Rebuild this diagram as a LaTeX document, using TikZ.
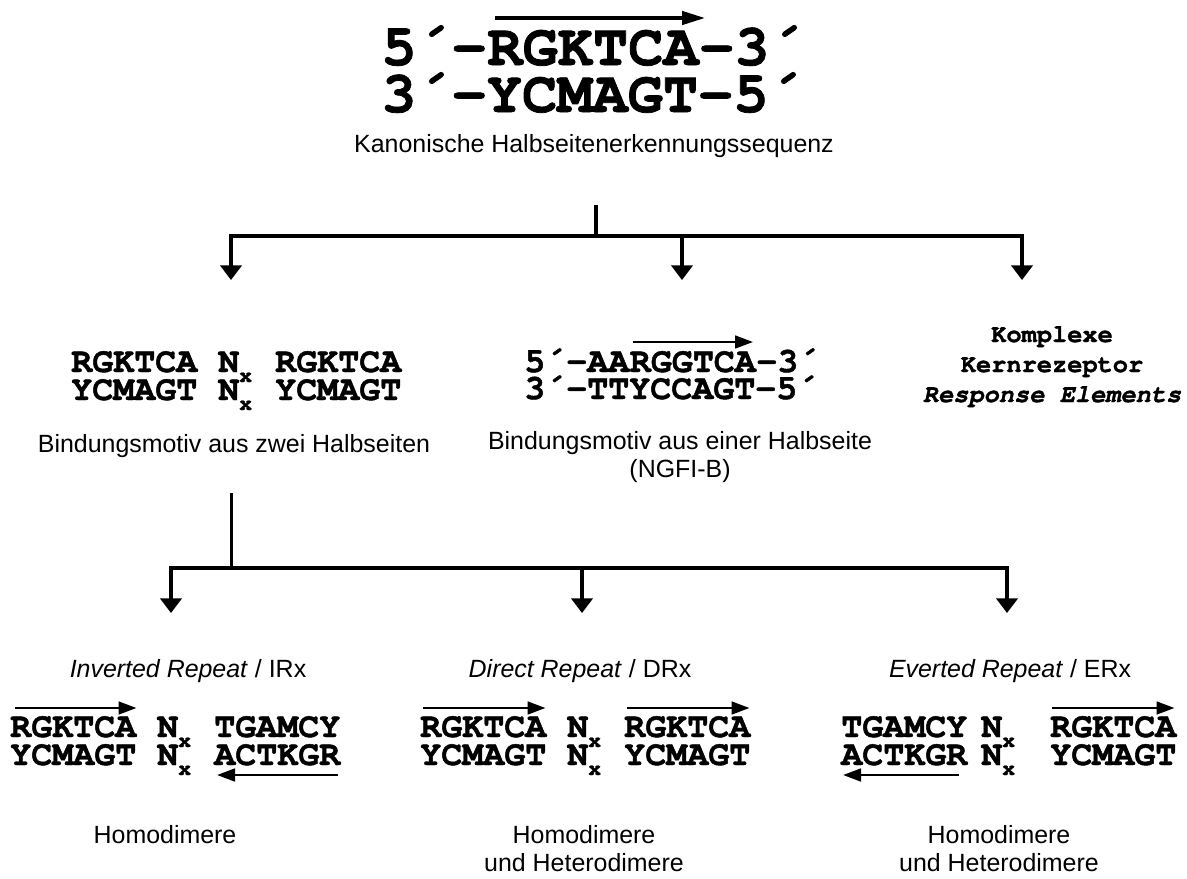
\documentclass[tikz,border=0pt]{standalone}
\usepackage{fontspec}
\setmainfont{Liberation Sans}
\newfontfamily\monofam{TeX Gyre Cursor}[BoldFeatures={FakeBold=1.3}, BoldItalicFeatures={FakeBold=1.3}]
\usetikzlibrary{arrows.meta, positioning}

\newcommand\seqbig{\fontsize{44}{35}\selectfont\monofam\bfseries}
\newcommand\seqmid{\fontsize{26.25}{21}\selectfont\monofam\bfseries}
\newcommand\seqsmall{\fontsize{19}{22.5}\selectfont\monofam\bfseries}
\newcommand\lblfont{\fontsize{18.7}{21}\selectfont}
\newcommand\Nx{N\raisebox{-7.5pt}{\fontsize{16}{16}\selectfont x}}

\tikzset{
  seqb/.style={font=\seqbig, inner sep=0pt, anchor=base west},
  seqm/.style={font=\seqmid, inner sep=0pt, anchor=base west},
  lbl/.style={font=\lblfont, inner sep=0pt, anchor=base, align=center},
  branch/.style={line width=2.4pt},
  drop/.style={branch, -{Triangle[length=11pt, width=16pt]}},
  fork/.style={branch, {Triangle[length=11pt, width=16pt]}-{Triangle[length=11pt, width=16pt]}},
  bigstrand/.style={line width=2.3pt, -{Triangle[length=17pt, width=10pt]}},
  strand/.style={line width=2pt, -{Triangle[length=13.5pt, width=9.5pt]}},
}

\begin{document}
\begin{tikzpicture}[x=0.75pt, y=-0.75pt]
        \useasboundingbox (0,0) rectangle (1187,878);

        % canonical half site
        \node[seqb] (t1a) at (381,65) {5´-};
        \node[seqb] (t1b) at (t1a.base east) {RGKTCA};
        \node[seqb] (t1c) at (t1b.base east) {-3´};
        \node[seqb] (t2) at (381,112) {3´-YCMAGT-5´};
        \draw[bigstrand] ([shift={(8,-47)}]t1b.base west) -- ([shift={(6,-47)}]t1b.base east);
        \node[lbl] (canon) at (594,152) {Kanonische Halbseitenerkennungssequenz};

        \coordinate (top) at (596,205);
        \coordinate (hub) at (596,236);
        \coordinate (toA) at (231,280);
        \coordinate (toB) at (682,280);
        \coordinate (toC) at (1022,280);
        \draw[branch] (top) -- (hub);
        \draw[fork] (toA) |- (hub) -| (toC);
        \draw[drop] (hub -| toB) -- (toB);

        % two half sites
        \node[seqm] (a1l) at (71,372) {RGKTCA};
        \node[seqm] (a1n) at (218,372) {\Nx};
        \node[seqm] (a1r) at (275,372) {RGKTCA};
        \node[seqm] (a2l) at (71,400) {YCMAGT};
        \node[seqm] (a2n) at (218,400) {\Nx};
        \node[seqm] (a2r) at (275,400) {YCMAGT};
        \node[lbl] (twohalf) at (234,452) {Bindungsmotiv aus zwei Halbseiten};

        % one half site
        \node[seqm] (b1a) at (524,372) {5´-AA};
        \node[seqm] (b1b) at (b1a.base east) {RGGTCA};
        \node[seqm] (b1c) at (b1b.base east) {-3´};
        \node[seqm] (b2) at (524,399) {3´-TTYCCAGT-5´};
        \draw[strand] ([shift={(3,-30)}]b1b.base west) -- ([shift={(-3,-30)}]b1b.base east);
        \node[lbl] (onehalf) at (680,477) {Bindungsmotiv aus einer Halbseite\\(NGFI-B)};

        % complex elements
        \node[font=\seqsmall, inner sep=0pt, anchor=base, align=center] (complex) at (1052,402)
            {Komplexe\\Kernrezeptor\\\textit{Response Elements}};

        \coordinate (split) at (231.5,493);
        \coordinate (hub2) at (231.5,568);
        \coordinate (toIR) at (171,613);
        \coordinate (toDR) at (582,613);
        \coordinate (toER) at (1007,613);
        \draw[branch] (split) -- (hub2);
        \draw[fork] (toIR) |- (hub2) -| (toER);
        \draw[drop] (hub2 -| toDR) -- (toDR);

        % inverted repeat
        \node[lbl] (irlbl) at (188,677) {\textit{Inverted Repeat} / IRx};
        \node[seqm] (ir1l) at (10,737) {RGKTCA};
        \node[seqm] (ir1n) at (157,737) {\Nx};
        \node[seqm] (ir1r) at (214,737) {TGAMCY};
        \node[seqm] (ir2l) at (10,765) {YCMAGT};
        \node[seqm] (ir2n) at (157,765) {\Nx};
        \node[seqm] (ir2r) at (214,765) {ACTKGR};
        \draw[strand] ([shift={(5,-29)}]ir1l.base west) -- ([shift={(0,-29)}]ir1l.base east);
        \draw[strand] ([shift={(-3,10)}]ir2r.base east) -- ([shift={(3,10)}]ir2r.base west);
        \node[lbl] (irdim) at (165,843) {Homodimere};

        % direct repeat
        \node[lbl] (drlbl) at (580,677) {\textit{Direct Repeat} / DRx};
        \node[seqm] (dr1l) at (420,737) {RGKTCA};
        \node[seqm] (dr1n) at (567,737) {\Nx};
        \node[seqm] (dr1r) at (624,737) {RGKTCA};
        \node[seqm] (dr2l) at (420,765) {YCMAGT};
        \node[seqm] (dr2n) at (567,765) {\Nx};
        \node[seqm] (dr2r) at (624,765) {YCMAGT};
        \draw[strand] ([shift={(3,-29)}]dr1l.base west) -- ([shift={(-1,-29)}]dr1l.base east);
        \draw[strand] ([shift={(3,-29)}]dr1r.base west) -- ([shift={(-1,-29)}]dr1r.base east);
        \node[lbl] (drdim) at (584,871) {Homodimere\\und Heterodimere};

        % everted repeat
        \node[lbl] (erlbl) at (1010,677) {\textit{Everted Repeat} / ERx};
        \node[seqm] (er1l) at (841,737) {TGAMCY};
        \node[seqm] (er1n) at (981,737) {\Nx};
        \node[seqm] (er1r) at (1050,737) {RGKTCA};
        \node[seqm] (er2l) at (841,765) {ACTKGR};
        \node[seqm] (er2n) at (981,765) {\Nx};
        \node[seqm] (er2r) at (1050,765) {YCMAGT};
        \draw[strand] ([shift={(2,-29)}]er1r.base west) -- ([shift={(-2,-29)}]er1r.base east);
        \draw[strand] ([shift={(-9,10)}]er2l.base east) -- ([shift={(2,10)}]er2l.base west);
        \node[lbl] (erdim) at (999,871) {Homodimere\\und Heterodimere};

    \end{tikzpicture}
\end{document}
